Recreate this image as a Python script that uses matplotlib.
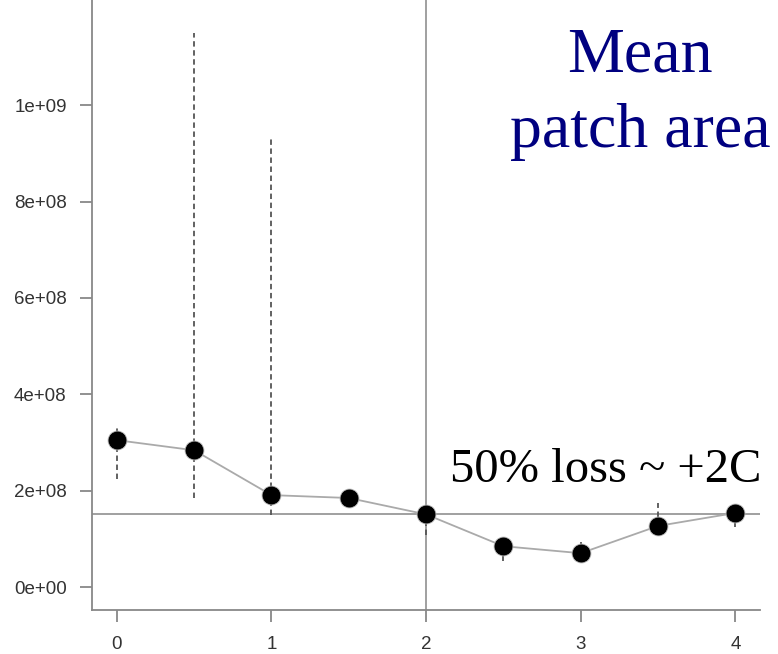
import matplotlib
matplotlib.use("Agg")
import matplotlib.pyplot as plt
import numpy as np

x = [0, 0.5, 1, 1.5, 2, 2.5, 3, 3.5, 4]
mean_area = [3.05e8, 2.84e8, 1.91e8, 1.85e8, 1.51e8, 0.85e8, 0.705e8, 1.27e8, 1.54e8]
err_low = [2.24e8, 1.85e8, 1.49e8, 1.85e8, 1.08e8, 0.54e8, 0.705e8, 1.27e8, 1.24e8]
err_high = [3.30e8, 1.15e9, 0.934e9, 1.85e8, 1.51e8, 0.85e8, 0.93e8, 1.74e8, 1.54e8]
hline_value = 1.51e8
vline_value = 2
yticks = [0, 2e8, 4e8, 6e8, 8e8, 1e9]
ytick_labels = ["0e+00", "2e+08", "4e+08", "6e+08", "8e+08", "1e+09"]
xticks = [0, 1, 2, 3, 4]

fig = plt.figure(figsize=(7.78, 6.54), dpi=100)
ax = fig.add_axes([0.118, 0.067, 0.859, 0.933])

ax.vlines(x, err_low, err_high, colors="#555555", linestyles=(0, (3, 2)), linewidth=1.3, zorder=2)
ax.axhline(hline_value, color="#999999", linewidth=1.3, zorder=1)
ax.axvline(vline_value, color="#999999", linewidth=1.3, zorder=1)
ax.plot(x, mean_area, color="#aaaaaa", linewidth=1.3, zorder=3)
ax.scatter(x, mean_area, s=185, color="black", edgecolors="#bbbbbb", linewidths=0.6, zorder=4)

ax.set_xlim(-0.162, 4.16)
ax.set_ylim(-0.0477e9, 1.218e9)
ax.set_yticks(yticks)
ax.set_yticklabels(ytick_labels)
ax.set_xticks(xticks)
ax.set_xticklabels([str(v) for v in xticks])

for s in ["top", "right"]:
    ax.spines[s].set_visible(False)
for s in ["left", "bottom"]:
    ax.spines[s].set_color("#888888")
    ax.spines[s].set_linewidth(1.3)
ax.tick_params(axis="both", colors="#888888", length=8.6, width=1.3, labelcolor="#333333",
               labelsize=13.5)
ax.tick_params(axis="y", pad=9.5)
ax.tick_params(axis="x", pad=10)
for lab in ax.get_xticklabels() + ax.get_yticklabels():
    lab.set_family("Liberation Sans")

fig.text(0.823, 0.890, "Mean", color="#000080", fontsize=46, family="Liberation Serif",
         ha="center", va="baseline")
fig.text(0.823, 0.775, "patch area", color="#000080", fontsize=46, family="Liberation Serif",
         ha="center", va="baseline")
fig.text(0.979, 0.263, "50% loss ~ +2C", color="black", fontsize=35, family="Liberation Serif",
         ha="right", va="baseline")

fig.savefig("out.png", dpi=100)
